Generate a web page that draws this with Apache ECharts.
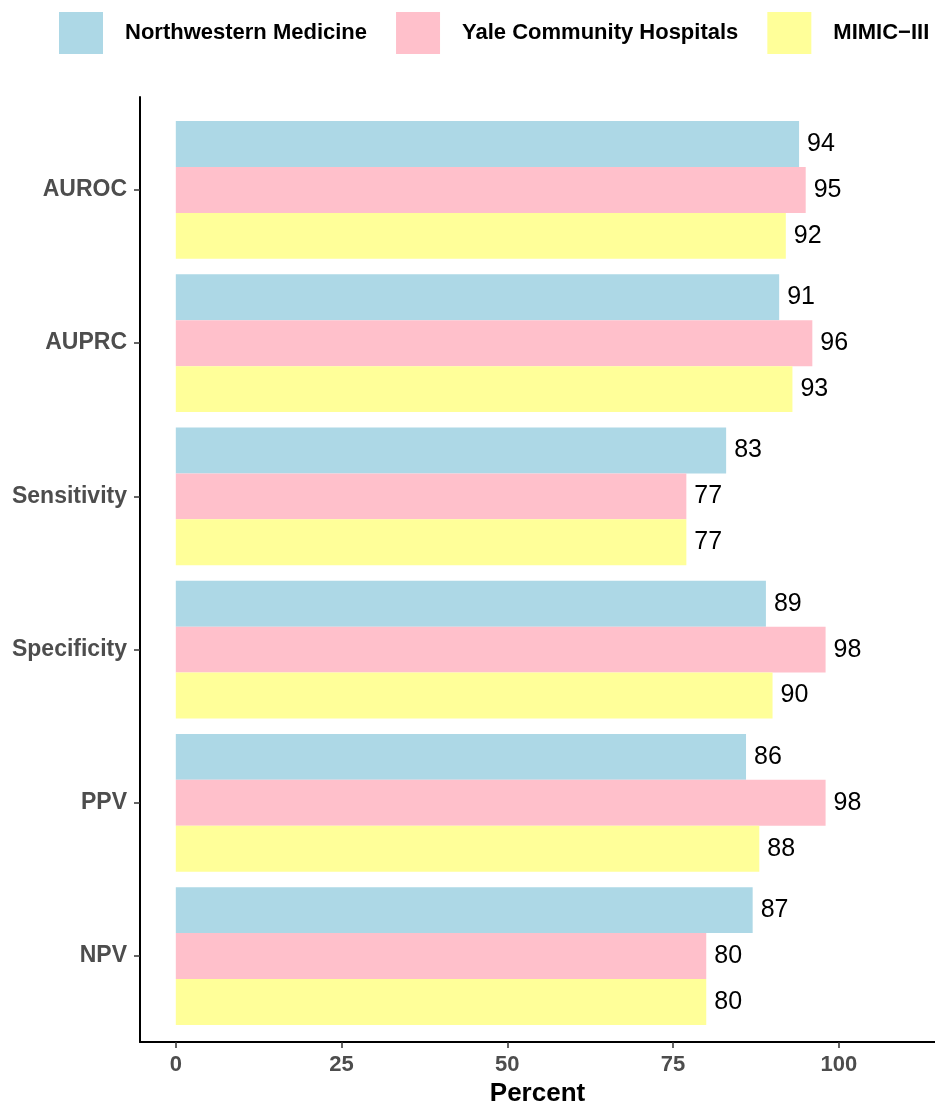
<!DOCTYPE html>
<html>
<head>
<meta charset="utf-8">
<script src="https://cdn.jsdelivr.net/npm/echarts@6/dist/echarts.min.js"></script>
<style>
  html, body { margin: 0; padding: 0; background: #fff; }
  #chart { width: 935px; height: 1112px; }
</style>
</head>
<body>
<div id="chart"></div>
<script>
// 指标类别（从上到下）
var metrics = ['AUROC', 'AUPRC', 'Sensitivity', 'Specificity', 'PPV', 'NPV'];
var seriesNames = ['Northwestern Medicine', 'Yale Community Hospitals', 'MIMIC\u2212III'];
// 各数据集的数值（百分比）
var northwestern = [94, 91, 83, 89, 86, 87];
var yale = [95, 96, 77, 98, 98, 80];
var mimic = [92, 93, 77, 90, 88, 80];
var xTicks = [0, 25, 50, 75, 100];
var colors = ['#ADD8E6', '#FFC0CB', '#FFFF99'];

var FONT = 'Liberation Sans, Arial, Helvetica, sans-serif';
var X_MIN = -5.4, X_MAX = 114.5;

function makeSeries(name, data, color) {
	return {
		name : name,
		type : 'bar',
		xAxisIndex : 0,
		yAxisIndex : 0,
		data : data,
		barGap : '0%',
		barCategoryGap : '10%',
		itemStyle : { color : color },
		label : {
			show : true,
			position : 'right',
			distance : 8,
			fontSize : 25,
			color : '#000',
			fontFamily : FONT
		}
	};
}

var myChart = echarts.init(document.getElementById('chart'), null, { renderer : 'canvas' });

var option = {
	animation : false,
	backgroundColor : '#fff',
	textStyle : { fontFamily : FONT },
	legend : {
		data : seriesNames,
		left : 59,
		top : 12,
		width : 935,
		padding : 0,
		icon : 'rect',
		itemWidth : 44,
		itemHeight : 42,
		itemGap : 29,
		textStyle : {
			fontSize : 22,
			fontWeight : 'bold',
			color : '#000',
			padding : [0, 0, 0, 17]
		}
	},
	// grid 0 画柱子，grid 1 画坐标轴框线
	grid : [{
		left : 140, right : 0, top : 113.3, bottom : 79.3
	}, {
		left : 140, right : 0, top : 97, bottom : 65
	}],
	xAxis : [{
		gridIndex : 0,
		type : 'value',
		min : X_MIN,
		max : X_MAX,
		show : false
	}, {
		gridIndex : 1,
		type : 'value',
		min : X_MIN,
		max : X_MAX,
		name : 'Percent',
		nameLocation : 'middle',
		nameGap : 38,
		nameTextStyle : { fontSize : 26, fontWeight : 'bold', color : '#000' },
		axisLine : { show : true, onZero : false, lineStyle : { color : '#000', width : 2 } },
		axisTick : { show : true, length : 6, customValues : xTicks, lineStyle : { color : '#333', width : 1.5 } },
		axisLabel : { customValues : xTicks, margin : 12, fontSize : 22, fontWeight : 'bold', color : '#4d4d4d' },
		splitLine : { show : false }
	}],
	yAxis : [{
		gridIndex : 0,
		type : 'category',
		data : metrics,
		inverse : true,
		axisLine : { show : false, onZero : false },
		axisTick : { show : true, alignWithLabel : true, length : 6, lineStyle : { color : '#333', width : 1.5 } },
		axisLabel : { margin : 13, fontSize : 23, fontWeight : 'bold', color : '#4d4d4d' },
		splitLine : { show : false }
	}, {
		gridIndex : 1,
		type : 'value',
		min : 0,
		max : 1,
		axisLine : { show : true, onZero : false, lineStyle : { color : '#000', width : 2 } },
		axisTick : { show : false },
		axisLabel : { show : false },
		splitLine : { show : false }
	}],
	series : [
		makeSeries(seriesNames[0], northwestern, colors[0]),
		makeSeries(seriesNames[1], yale, colors[1]),
		makeSeries(seriesNames[2], mimic, colors[2])
	]
};

myChart.setOption(option);
</script>
</body>
</html>
